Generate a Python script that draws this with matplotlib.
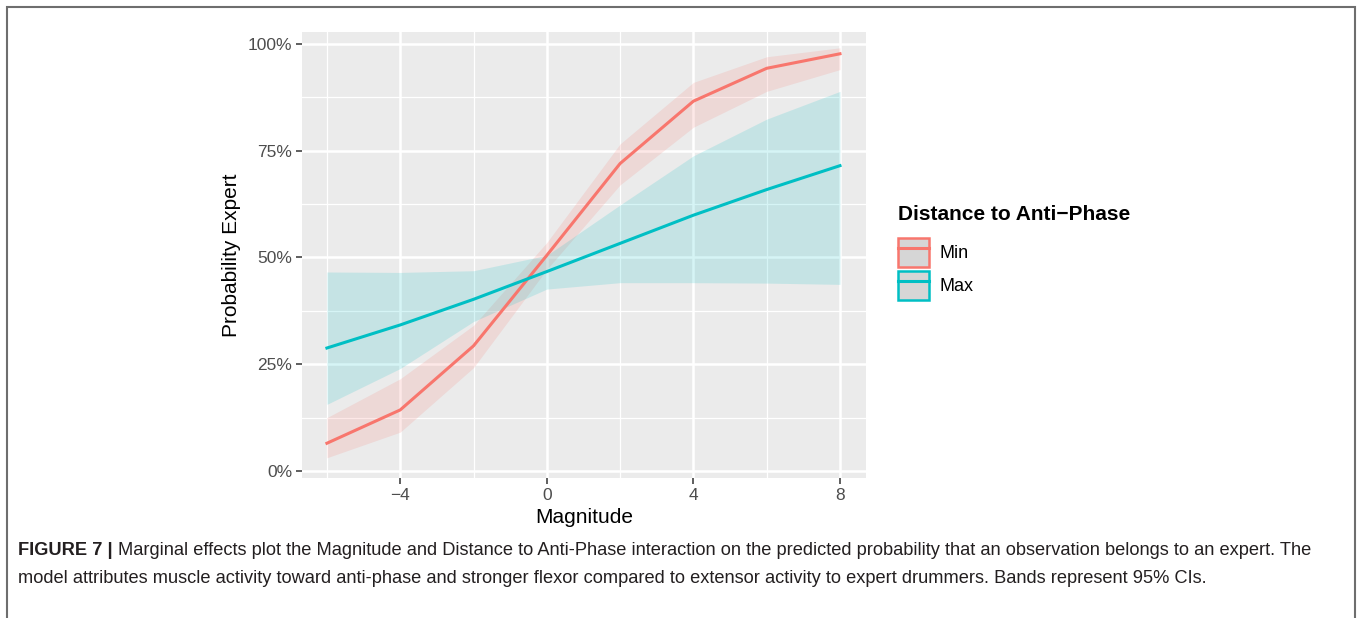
import numpy as np
import matplotlib
matplotlib.use("Agg")
import matplotlib.pyplot as plt
from matplotlib.patches import Patch, Rectangle
from matplotlib.lines import Line2D
from matplotlib.legend_handler import HandlerTuple
from matplotlib.ticker import FuncFormatter, MultipleLocator

plt.rcParams["font.family"] = ["Liberation Sans", "DejaVu Sans"]

# ── Data ──────────────────────────────────────────────────────────────────
magnitude = [-6, -4, -2, 0, 2, 4, 6, 8]

min_fit   = [0.065, 0.143, 0.293, 0.505, 0.720, 0.866, 0.943, 0.977]
min_lower = [0.031, 0.091, 0.242, 0.472, 0.670, 0.805, 0.889, 0.940]
min_upper = [0.125, 0.216, 0.341, 0.535, 0.766, 0.910, 0.970, 0.991]

max_fit   = [0.288, 0.342, 0.402, 0.467, 0.533, 0.599, 0.659, 0.715]
max_lower = [0.156, 0.240, 0.350, 0.426, 0.441, 0.441, 0.440, 0.437]
max_upper = [0.466, 0.465, 0.469, 0.505, 0.623, 0.738, 0.824, 0.889]

series = ["Min", "Max"]
colors = {"Min": "#F8766D", "Max": "#00BFC4"}

x_ticks = [-4, 0, 4, 8]
y_ticks = [0, 0.25, 0.5, 0.75, 1.0]

legend_title = "Distance to Anti\u2212Phase"
caption_bold = "FIGURE 7 | "
caption_1 = ("Marginal effects plot the Magnitude and Distance to Anti-Phase interaction "
             "on the predicted probability that an observation belongs to an expert. The")
caption_2 = ("model attributes muscle activity toward anti-phase and stronger flexor compared "
             "to extensor activity to expert drummers. Bands represent 95% CIs.")

# ── Figure ────────────────────────────────────────────────────────────────
fig = plt.figure(figsize=(13.6, 6.18), dpi=100)
ax = fig.add_axes([302 / 1360, 1 - 478 / 618, 564 / 1360, 446 / 618])

ax.set_facecolor("#EBEBEB")
for s in ax.spines.values():
    s.set_visible(False)

bands = {"Min": (min_lower, min_upper, min_fit),
         "Max": (max_lower, max_upper, max_fit)}
for name in series:
    lo, hi, fit = bands[name]
    ax.fill_between(magnitude, lo, hi, color=colors[name], alpha=0.16,
                    linewidth=0, zorder=2)
for name in series:
    lo, hi, fit = bands[name]
    ax.plot(magnitude, fit, color=colors[name], linewidth=2.2, zorder=3)

ax.set_xlim(-6.68, 8.71)
ax.set_ylim(-0.0164, 1.028)
ax.set_xticks(x_ticks)
ax.set_yticks(y_ticks)
ax.xaxis.set_minor_locator(MultipleLocator(2))
ax.yaxis.set_minor_locator(MultipleLocator(0.125))
ax.yaxis.set_major_formatter(FuncFormatter(lambda v, p: f"{v * 100:.0f}%"))
ax.xaxis.set_major_formatter(FuncFormatter(lambda v, p: f"{v:.0f}".replace("-", "\u2212")))

ax.grid(which="major", color="white", linewidth=1.8, zorder=1)
ax.grid(which="minor", color="white", linewidth=0.9, zorder=1)
ax.set_axisbelow(True)
ax.tick_params(which="major", length=4, width=1.1, color="#333333",
               labelcolor="#4D4D4D", labelsize=12.5, pad=3)
ax.tick_params(which="minor", length=0)

ax.set_xlabel("Magnitude", fontsize=15, labelpad=4)
ax.set_ylabel("Probability Expert", fontsize=15, labelpad=5)

# legend: grey key box with coloured outline and line on top
fig.text(898 / 1360, 1 - 215 / 618, legend_title, fontsize=15,
         fontweight="bold", va="center", ha="left")
handles = [(Patch(facecolor="#D6D6D6", edgecolor=colors[n], linewidth=1.8),
            Line2D([], [], color=colors[n], linewidth=2.2)) for n in series]
leg = fig.legend(handles, series, handler_map={tuple: HandlerTuple(ndivide=1, pad=0)},
                 loc="upper left", bbox_to_anchor=(891 / 1360, 1 - 231 / 618),
                 frameon=False, fontsize=13, handlelength=1.7, handleheight=2.05,
                 handletextpad=0.6, labelspacing=0.25, borderaxespad=0)

# figure frame
fig.add_artist(Rectangle((7 / 1360, -0.05), 1348 / 1360, 1.05 - 7 / 618,
                         transform=fig.transFigure, fill=False,
                         edgecolor="#6E6E6E", linewidth=1.5))

# caption
cap_size = 13.15
t0 = fig.text(18 / 1360, 1 - 555 / 618, caption_bold, fontsize=cap_size,
              fontweight="bold", color="#231F20")
ax.annotate(caption_1, xy=(1, 0), xycoords=t0, va="bottom", ha="left",
            fontsize=cap_size, color="#231F20")
fig.text(18 / 1360, 1 - 583 / 618, caption_2, fontsize=cap_size,
         color="#231F20")

fig.savefig("out.png", dpi=100)
